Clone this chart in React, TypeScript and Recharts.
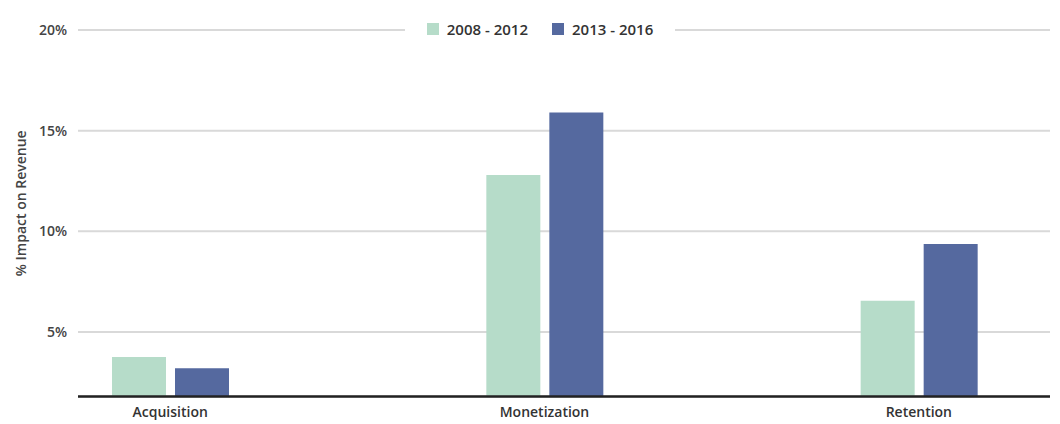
import React from 'react';
import { BarChart, Bar, XAxis, YAxis, CartesianGrid, Legend } from 'recharts';

const categories = ['Acquisition', 'Monetization', 'Retention'];
const series2008 = [3.76, 12.8, 6.55];
const series2013 = [3.2, 15.9, 9.37];
const seriesNames = ['2008 - 2012', '2013 - 2016'];
const seriesColors = ['#b6dcc9', '#55699f'];
const yTicks = [5, 10, 15, 20];

const data = categories.map((c, i) => ({ name: c, a: series2008[i], b: series2013[i] }));

const FONT = '"Open Sans", sans-serif';

const LegendContent = () => (
  <div
    style={{
      background: '#fff',
      display: 'flex',
      justifyContent: 'center',
      alignItems: 'center',
      height: 26,
      fontFamily: FONT,
      fontWeight: 600,
      fontSize: 15,
      color: '#333',
    }}
  >
    {seriesNames.map((n, i) => (
      <div key={n} style={{ display: 'flex', alignItems: 'center', marginRight: i === 0 ? 24 : 0 }}>
        <div style={{ width: 12, height: 12, background: seriesColors[i], marginRight: 8 }} />
        <span>{n}</span>
      </div>
    ))}
  </div>
);

const YLabel = (props: any) => {
  const vb = props.viewBox || {};
  const x = vb.x + 2;
  const y = vb.y + vb.height / 2 - 10;
  return (
    <text
      x={x}
      y={y}
      transform={`rotate(-90, ${x}, ${y})`}
      textAnchor="middle"
      dominantBaseline="central"
      fontFamily={FONT}
      fontWeight={600}
      fontSize={14}
      fill="#444"
    >
      % Impact on Revenue
    </text>
  );
};

export default function App() {
  return (
    <div style={{ position: 'absolute', left: 0, top: 0, background: '#fff' }}>
      <BarChart
        width={1060}
        height={424}
        data={data}
        margin={{ top: 30, right: 10, left: 18, bottom: 0 }}
        barSize={54}
        barGap={9}
      >
        <CartesianGrid horizontal vertical={false} stroke="#d9d9d9" strokeWidth={2} />
        <XAxis
          dataKey="name"
          padding={{ left: -95, right: -56 }}
          tickLine={false}
          axisLine={{ stroke: '#222', strokeWidth: 2.5 }}
          tick={{ fontFamily: FONT, fontWeight: 600, fontSize: 14, fill: '#333' }}
          tickMargin={5}
          height={27.5}
        />
        <YAxis
          width={60}
          domain={[1.8, 20]}
          ticks={yTicks}
          allowDataOverflow
          tickFormatter={(v: number) => `${v}%`}
          tickLine={false}
          axisLine={false}
          tick={{ fontFamily: FONT, fontWeight: 600, fontSize: 14, fill: '#444' }}
          tickMargin={5}
          label={<YLabel />}
        />
        <Legend
          verticalAlign="middle"
          content={<LegendContent />}
          wrapperStyle={{ position: 'absolute', top: 16, left: 405, width: 270 }}
        />
        <Bar dataKey="a" name={seriesNames[0]} fill={seriesColors[0]} isAnimationActive={false} />
        <Bar dataKey="b" name={seriesNames[1]} fill={seriesColors[1]} isAnimationActive={false} />
      </BarChart>
    </div>
  );
}
